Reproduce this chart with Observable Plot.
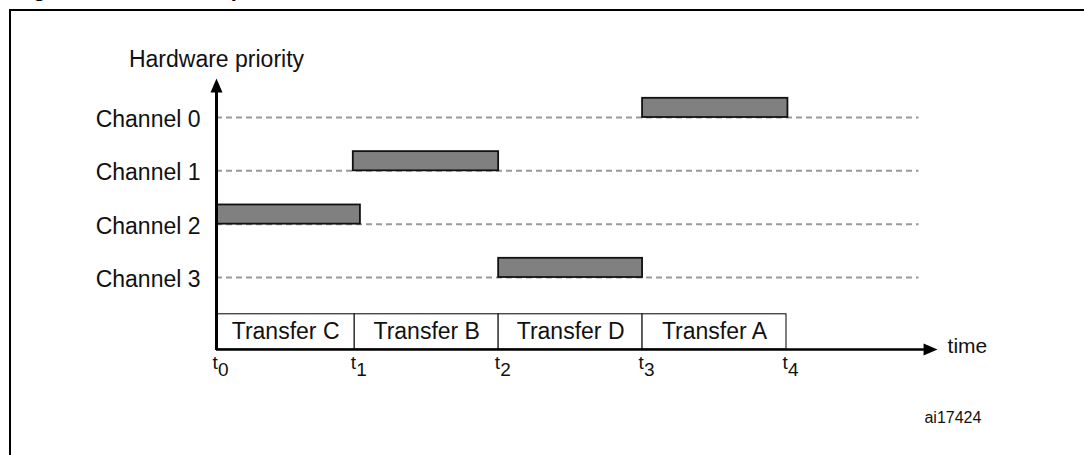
<!DOCTYPE html>
<html>
<head>
<meta charset="utf-8">
<script src="https://cdn.jsdelivr.net/npm/d3@7"></script>
<script src="https://cdn.jsdelivr.net/npm/@observablehq/plot@0.6"></script>
<style>
  html, body { margin: 0; padding: 0; background: #fff; }
  #wrap { position: relative; width: 1084px; height: 455px; overflow: hidden; background: #fff;
          font-family: "Liberation Sans", Arial, sans-serif; }
  #title { position: absolute; left: 14px; top: -21px; font-size: 21.5px; line-height: 21px;
           font-weight: bold; white-space: nowrap; color: #000; }
  #frame { position: absolute; left: 9px; top: 9px; width: 1200px; height: 600px;
           border: 2px solid #000; box-sizing: border-box; }
  #chart { position: absolute; left: 0; top: 0; }
  #chart svg { background: transparent; overflow: visible; }
</style>
</head>
<body>
<div id="wrap">
  <div id="title">Figure 12. DMA example</div>
  <div id="frame"></div>
  <div id="chart"></div>
</div>
<script>
// ---- data ----
const channels = ["Channel 0", "Channel 1", "Channel 2", "Channel 3"];
const tickDigits = ["0", "1", "2", "3", "4"];
const tickTimes = [0, 0.97, 1.98, 2.99, 4];
const transferNames = ["Transfer C", "Transfer B", "Transfer D", "Transfer A"];
const barChannel = [2, 1, 3, 0];
const barStart = [0, 0.96, 1.98, 2.99];
const barEnd = [1.01, 1.98, 2.99, 4.01];
const yAxisTitle = "Hardware priority";
const xAxisTitle = "time";
const figureId = "ai17424";

// ---- derived tables ----
const channelRows = channels.map((name, i) => ({name, i}));
const bars = barChannel.map((c, i) => ({ch: c, start: barStart[i], end: barEnd[i]}));
const transfers = transferNames.map((name, i) => ({name, start: tickTimes[i], end: tickTimes[i + 1]}));
const ticks = tickDigits.map((d, i) => ({d, t: tickTimes[i]}));

// layout constants (in scale units)
const AXIS_Y = 4.35;      // time axis level
const BOX_TOP = 3.69;     // top of transfer boxes
const ARROW_Y = -0.73;    // tip of vertical arrow
const ARROW_X = 5.06;     // tip of horizontal arrow
const DASH_END = 4.93;
const BAR_H = 0.36;

// filled arrowhead pointing up, tip at origin
const arrowHead = {
  draw(ctx) {
    ctx.moveTo(0, 0);
    ctx.lineTo(6, 14);
    ctx.lineTo(-6, 14);
    ctx.closePath();
  }
};

const chart = Plot.plot({
  width: 1084,
  height: 455,
  margin: 0,
  style: {fontFamily: "'Liberation Sans', Arial, sans-serif", background: "transparent", color: "#000"},
  x: {domain: [0, 4], range: [216, 786], axis: null},
  y: {domain: [0, 3], range: [117, 277], axis: null},
  marks: [
    // dashed priority levels
    Plot.ruleY(channelRows, {y: "i", x1: 0, x2: DASH_END, stroke: "#999", strokeWidth: 2, strokeDasharray: "6,4"}),
    // transfer boxes
    Plot.rect(transfers, {x1: "start", x2: "end", y1: BOX_TOP, y2: AXIS_Y, fill: "white", stroke: "black", strokeWidth: 1}),
    Plot.text(transfers, {x: d => (d.start + d.end) / 2, y: (BOX_TOP + AXIS_Y) / 2, text: "name", fontSize: 23, fill: "#111"}),
    // channel activity bars
    Plot.rect(bars, {x1: "start", x2: "end", y1: d => d.ch - BAR_H, y2: "ch", fill: "#808080", stroke: "#111", strokeWidth: 1.8}),
    // axes
    Plot.ruleX([0], {y1: AXIS_Y + 0.02, y2: ARROW_Y + 0.2, stroke: "black", strokeWidth: 3}),
    Plot.ruleY([AXIS_Y], {x1: 0, x2: ARROW_X - 0.08, stroke: "black", strokeWidth: 2.6}),
    Plot.dot([{x: 0, y: ARROW_Y}], {x: "x", y: "y", symbol: arrowHead, r: 5, fill: "black", stroke: "none"}),
    Plot.dot([{x: ARROW_X, y: AXIS_Y}], {x: "x", y: "y", symbol: arrowHead, r: 5, fill: "black", stroke: "none", rotate: 90}),
    // channel labels
    Plot.text(channelRows, {x: 0, y: "i", text: "name", textAnchor: "end", dx: -16, dy: 2, fontSize: 23, fill: "#111"}),
    // axis titles
    Plot.text([yAxisTitle], {x: 0, y: -0.94, text: d => d, dx: 0, lineAnchor: "bottom", fontSize: 23, fill: "#111"}),
    Plot.text([xAxisTitle], {x: ARROW_X, y: AXIS_Y, text: d => d, textAnchor: "start", dx: 10, dy: -3, fontSize: 21, fill: "#111"}),
    // tick labels t0..t4
    Plot.text(ticks, {x: "t", y: AXIS_Y, text: () => "t", textAnchor: "start", dx: -4, dy: 13, fontSize: 19, fill: "#111"}),
    Plot.text(ticks, {x: "t", y: AXIS_Y, text: "d", textAnchor: "start", dx: 1.5, dy: 20, fontSize: 19, fill: "#111"}),
    // figure id
    Plot.text([figureId], {x: 4.968, y: 5.64, text: d => d, textAnchor: "start", fontSize: 16, fill: "#111"})
  ]
});
document.getElementById("chart").appendChild(chart);
</script>
</body>
</html>
